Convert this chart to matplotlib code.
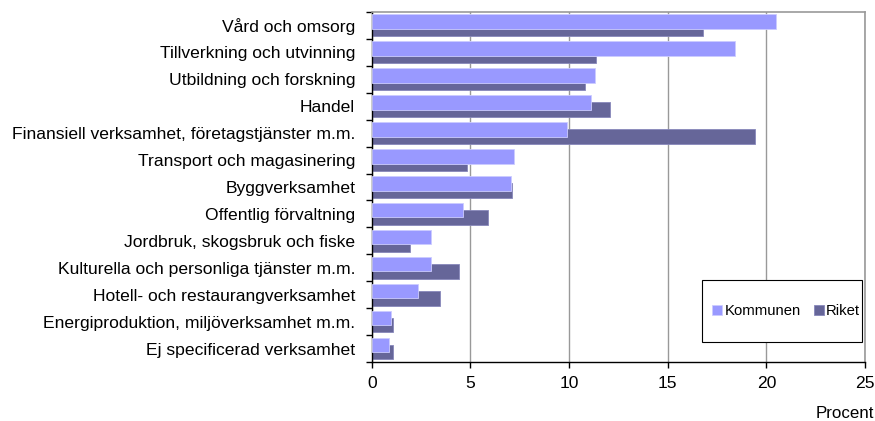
import numpy as np
import matplotlib
matplotlib.use('Agg')
from matplotlib import pyplot
from matplotlib.patches import Rectangle

pyplot.rcParams['font.family'] = ['Liberation Sans', 'DejaVu Sans']

categories = [
    'Vård och omsorg',
    'Tillverkning och utvinning',
    'Utbildning och forskning',
    'Handel',
    'Finansiell verksamhet, företagstjänster m.m.',
    'Transport och magasinering',
    'Byggverksamhet',
    'Offentlig förvaltning',
    'Jordbruk, skogsbruk och fiske',
    'Kulturella och personliga tjänster m.m.',
    'Hotell- och restaurangverksamhet',
    'Energiproduktion, miljöverksamhet m.m.',
    'Ej specificerad verksamhet',
]
kommunen = [20.5, 18.4, 11.3, 11.1, 9.9, 7.2, 7.05, 4.6, 3.0, 3.0, 2.35, 0.95, 0.85]
riket = [16.8, 11.35, 10.8, 12.05, 19.45, 4.8, 7.1, 5.9, 1.95, 4.4, 3.45, 1.05, 1.05]
xticks = [0, 5, 10, 15, 20, 25]

c_kom = '#9999ff'
c_rik = '#666699'

fig = pyplot.figure(figsize=(8.75, 4.21), dpi=100)
ax = fig.add_axes([0.425, 0.140, 0.5635, 0.8315])

y = np.arange(len(categories))
h = 0.54
ax.barh(y + 0.13, riket, height=h, color=c_rik, edgecolor='#8888bb',
        linewidth=0.6, label='Riket', zorder=2)
ax.barh(y - 0.14, kommunen, height=h, color=c_kom, edgecolor='#ccccff',
        linewidth=0.6, label='Kommunen', zorder=3)

ax.set_ylim(len(categories) - 0.5, -0.5)
ax.set_xlim(0, 25)
ax.set_xticks(xticks)
ax.set_yticks(y)
ax.set_yticklabels(categories, fontsize=12.6)
ax.set_yticks(np.arange(-0.5, len(categories), 1), minor=True)
ax.tick_params(axis='y', which='major', length=0, pad=12)
ax.tick_params(axis='y', which='minor', length=4, width=1, direction='out')
ax.tick_params(axis='x', length=4, width=1, direction='out', labelsize=12.6, pad=6)

ax.grid(axis='x', color='#999999', linewidth=1, zorder=0)
ax.set_axisbelow(True)
for s in ['top', 'right']:
    ax.spines[s].set_color('#999999')
    ax.spines[s].set_linewidth(1.2)
ax.spines['left'].set_linewidth(1)
ax.spines['bottom'].set_linewidth(1)

fig.text(0.999, 0.019, 'Procent', ha='right', va='center', fontsize=12.2)

# legend box drawn separately so the padding can differ per side
ax.add_patch(Rectangle((0.669, 0.057), 0.325, 0.177, transform=ax.transAxes,
                       facecolor='white', edgecolor='black', linewidth=0.8,
                       zorder=5, clip_on=False))
handles, labels = ax.get_legend_handles_labels()
leg = ax.legend(handles[::-1], labels[::-1], loc='center left',
                bbox_to_anchor=(0.69, 0.146), ncol=2, fontsize=10.7,
                frameon=False, handlelength=0.7, handleheight=0.7,
                handletextpad=0.15, columnspacing=0.85, borderpad=0,
                borderaxespad=0)
leg.set_zorder(6)

fig.savefig('out.png', dpi=100)
